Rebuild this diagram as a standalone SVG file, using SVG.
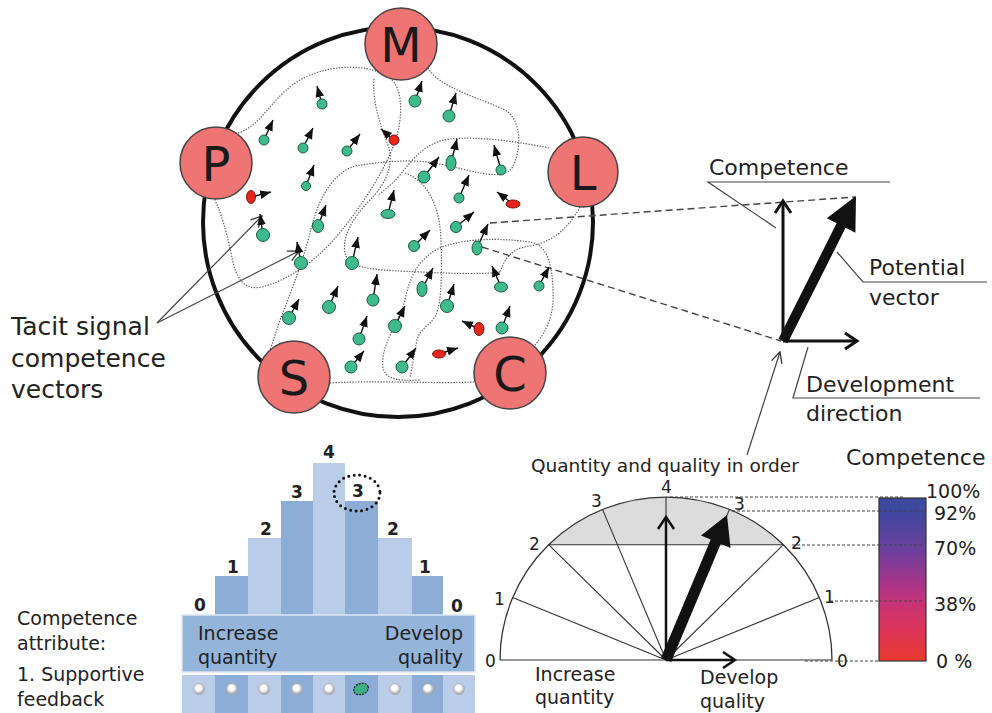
<svg xmlns="http://www.w3.org/2000/svg" width="992" height="713" viewBox="0 0 992 713">
  <defs>
    <style>
      .t { font-family: "DejaVu Sans", Verdana, sans-serif; fill: #222; }
      .node-c { fill: #ef7474; stroke: #444; stroke-width: 1.5; }
      .node-t { font-family: "DejaVu Sans", Verdana, sans-serif; font-size: 48px; fill: #1a1a1a; text-anchor: middle; }
      .dot { fill: #3fba8c; stroke: #1e5a44; stroke-width: 1; }
      .red { fill: #e5261c; stroke: #7a140c; stroke-width: 1; }
      .vec { stroke: #111; stroke-width: 1.4; marker-end: url(#tip); }
      .web { fill: none; stroke: #555; stroke-width: 1.2; stroke-dasharray: 1.3 1.5; }
      .dash { fill: none; stroke: #444; stroke-width: 1.4; stroke-dasharray: 7 4; }
      .lead { fill: none; stroke: #444; stroke-width: 1.2; }
      .arr { fill: none; stroke: #111; stroke-width: 3; stroke-linejoin: miter; }
      .lvl { fill: none; stroke: #444; stroke-width: 1; stroke-dasharray: 3 2; }
      .bl { fill: #b9cde8; }
      .bd { fill: #8badd6; }
      .num { font-family: "DejaVu Sans", Verdana, sans-serif; font-size: 17px; font-weight: bold; fill: #222; text-anchor: middle; }
      .ray { stroke: #333; stroke-width: 1.1; }
      .radio { fill: url(#radioFill); stroke: #aaa; stroke-width: 0.6; }
    </style>
    <marker id="tip" viewBox="0 0 10 10" refX="10" refY="5" markerWidth="11" markerHeight="11" markerUnits="userSpaceOnUse" orient="auto">
      <path d="M0,1 L10,5 L0,9 Z" fill="#111"/>
    </marker>
    <marker id="open" viewBox="0 0 12 12" refX="11" refY="6" markerWidth="13" markerHeight="13" markerUnits="userSpaceOnUse" orient="auto">
      <path d="M1,1 L11,6 L1,11" fill="none" stroke="#333" stroke-width="1.2"/>
    </marker>
    <linearGradient id="scale" x1="0" y1="0" x2="0" y2="1">
      <stop offset="0" stop-color="#3a4aa0"/>
      <stop offset="0.1" stop-color="#40479f"/>
      <stop offset="0.32" stop-color="#6c3f9b"/>
      <stop offset="0.5" stop-color="#a2368d"/>
      <stop offset="0.64" stop-color="#c63377"/>
      <stop offset="0.82" stop-color="#dd3456"/>
      <stop offset="1" stop-color="#e8392c"/>
    </linearGradient>
    <radialGradient id="radioFill" cx="0.45" cy="0.4" r="0.6">
      <stop offset="0.4" stop-color="#ffffff"/>
      <stop offset="1" stop-color="#9a9a9a"/>
    </radialGradient>
  </defs>

  <rect width="992" height="713" fill="#ffffff"/>

  <!-- outer boundary -->
  <circle cx="398" cy="222" r="195" fill="none" stroke="#111" stroke-width="4"/>

  <!-- connectors: dotted web, dashed projections, leaders -->
  <g id="connectors">
    <path class="web" d="M238,133 C262,126 272,96 300,80 C328,64 372,62 392,80 C404,92 402,122 395,142 C384,172 362,205 342,230 C322,255 295,278 262,287 C244,291 236,278 232,258 C227,232 220,210 214,198"/>
    <path class="web" d="M374,79 C372,100 380,125 388,145 C395,165 385,185 370,200 C352,218 340,240 346,256 C352,270 380,270 420,272 C460,274 490,274 500,272"/>
    <path class="web" d="M428,68 C440,88 480,98 505,110 C522,120 522,150 512,168 C502,182 470,170 440,164 C410,158 380,162 355,166 C335,172 320,195 312,225 C305,255 292,290 280,320 C275,335 272,345 270,350"/>
    <path class="web" d="M549,148 C520,142 480,136 450,139 C425,142 412,160 400,175 C390,187 383,190 378,196"/>
    <path class="web" d="M580,207 C570,225 555,242 530,246 C512,248 505,258 500,272"/>
    <path class="web" d="M533,347 C545,335 555,315 553,290 C552,265 548,245 530,242 C500,238 470,238 445,246 C420,255 410,275 405,300 C398,325 380,345 383,368 C386,380 400,381 420,380"/>
    <path class="web" d="M405,173 C430,182 440,210 441,240 C442,270 442,300 436,315 C430,326 420,328 417,340 C414,355 412,368 410,378"/>
    <path class="web" d="M330,383 C380,380 430,384 474,382"/>

    <line class="dash" x1="490" y1="223" x2="855" y2="197"/>
    <line class="dash" x1="482" y1="247" x2="781" y2="341"/>

    <line class="lead" x1="157" y1="323" x2="262" y2="216" marker-end="url(#open)"/>
    <line class="lead" x1="157" y1="323" x2="299" y2="251" marker-end="url(#open)"/>

    <polyline class="lead" points="890,182 708,182 776,228"/>
    <polyline class="lead" points="837,252 863,282 987,282"/>
    <polyline class="lead" points="808,347 793,398 980,398"/>
    <line class="lead" x1="747" y1="455" x2="780" y2="352" marker-end="url(#open)"/>
  </g>

  <!-- signal vectors -->
  <g id="signal-vectors">
    <line class="vec" x1="322" y1="104" x2="317" y2="86"/>
    <line class="vec" x1="264" y1="140" x2="273" y2="120"/>
    <line class="vec" x1="303" y1="148" x2="313" y2="128"/>
    <line class="vec" x1="347" y1="151" x2="360" y2="134"/>
    <line class="vec" x1="394" y1="140" x2="381" y2="129"/>
    <line class="vec" x1="306" y1="186" x2="314" y2="165"/>
    <line class="vec" x1="251" y1="197" x2="271" y2="192"/>
    <line class="vec" x1="388" y1="214" x2="394" y2="190"/>
    <line class="vec" x1="318" y1="226" x2="326" y2="205"/>
    <line class="vec" x1="415" y1="101" x2="422" y2="81"/>
    <line class="vec" x1="449" y1="116" x2="456" y2="93"/>
    <line class="vec" x1="451" y1="163" x2="457" y2="139"/>
    <line class="vec" x1="424" y1="177" x2="439" y2="157"/>
    <line class="vec" x1="501" y1="170" x2="494" y2="145"/>
    <line class="vec" x1="459" y1="198" x2="469" y2="175"/>
    <line class="vec" x1="513" y1="204" x2="497" y2="192"/>
    <line class="vec" x1="456" y1="227" x2="474" y2="212"/>
    <line class="vec" x1="263" y1="235" x2="260" y2="214"/>
    <line class="vec" x1="301" y1="263" x2="297" y2="242"/>
    <line class="vec" x1="352" y1="263" x2="358" y2="237"/>
    <line class="vec" x1="414" y1="246" x2="430" y2="230"/>
    <line class="vec" x1="477" y1="248" x2="488" y2="224"/>
    <line class="vec" x1="373" y1="300" x2="377" y2="274"/>
    <line class="vec" x1="329" y1="307" x2="338" y2="286"/>
    <line class="vec" x1="289" y1="318" x2="299" y2="299"/>
    <line class="vec" x1="422" y1="289" x2="433" y2="268"/>
    <line class="vec" x1="447" y1="306" x2="454" y2="284"/>
    <line class="vec" x1="501" y1="287" x2="492" y2="266"/>
    <line class="vec" x1="539" y1="286" x2="549" y2="267"/>
    <line class="vec" x1="502" y1="328" x2="510" y2="306"/>
    <line class="vec" x1="479" y1="329" x2="462" y2="321"/>
    <line class="vec" x1="395" y1="326" x2="405" y2="306"/>
    <line class="vec" x1="359" y1="339" x2="367" y2="316"/>
    <line class="vec" x1="439" y1="354" x2="458" y2="348"/>
    <line class="vec" x1="351" y1="367" x2="364" y2="351"/>
    <line class="vec" x1="402" y1="367" x2="416" y2="348"/>

    <circle class="dot" cx="322" cy="104" r="5"/>
    <circle class="dot" cx="264" cy="140" r="5"/>
    <circle class="dot" cx="303" cy="148" r="5"/>
    <circle class="dot" cx="347" cy="151" r="5"/>
    <circle class="red" cx="394" cy="140" r="5"/>
    <circle class="dot" cx="306" cy="186" r="4.5"/>
    <ellipse class="red" cx="251" cy="197" rx="4.5" ry="6.5"/>
    <ellipse class="dot" cx="388" cy="214" rx="7" ry="4.5"/>
    <ellipse class="dot" cx="318" cy="226" rx="5.5" ry="6.5"/>
    <circle class="dot" cx="415" cy="101" r="6"/>
    <circle class="dot" cx="449" cy="116" r="6"/>
    <ellipse class="dot" cx="451" cy="163" rx="5" ry="7.5"/>
    <circle class="dot" cx="424" cy="177" r="6"/>
    <circle class="dot" cx="501" cy="170" r="5"/>
    <circle class="dot" cx="459" cy="198" r="5"/>
    <ellipse class="red" cx="513" cy="204" rx="7" ry="4"/>
    <circle class="dot" cx="456" cy="227" r="5.5"/>
    <circle class="dot" cx="263" cy="235" r="6.5"/>
    <circle class="dot" cx="301" cy="263" r="6.5"/>
    <circle class="dot" cx="352" cy="263" r="6.5"/>
    <circle class="dot" cx="414" cy="246" r="5.5"/>
    <ellipse class="dot" cx="477" cy="248" rx="5" ry="7"/>
    <circle class="dot" cx="373" cy="300" r="6"/>
    <circle class="dot" cx="329" cy="307" r="6.5"/>
    <circle class="dot" cx="289" cy="318" r="6.5"/>
    <ellipse class="dot" cx="422" cy="289" rx="5" ry="7.5"/>
    <circle class="dot" cx="447" cy="306" r="6.5"/>
    <ellipse class="dot" cx="501" cy="287" rx="6.5" ry="5"/>
    <circle class="dot" cx="539" cy="286" r="5"/>
    <circle class="dot" cx="502" cy="328" r="6"/>
    <ellipse class="red" cx="479" cy="329" rx="5" ry="6.5"/>
    <circle class="dot" cx="395" cy="326" r="6.5"/>
    <circle class="dot" cx="359" cy="339" r="6"/>
    <ellipse class="red" cx="439" cy="354" rx="6.5" ry="4"/>
    <circle class="dot" cx="351" cy="367" r="6"/>
    <circle class="dot" cx="402" cy="367" r="6"/>
  </g>

  <!-- perimeter nodes -->
  <g id="node-M"><circle class="node-c" cx="401" cy="44" r="36"/><text class="node-t" x="401" y="62">M</text></g>
  <g id="node-P"><circle class="node-c" cx="216" cy="163" r="36"/><text class="node-t" x="216" y="181">P</text></g>
  <g id="node-L"><circle class="node-c" cx="583" cy="172" r="35"/><text class="node-t" x="583" y="190">L</text></g>
  <g id="node-S"><circle class="node-c" cx="294" cy="377" r="36"/><text class="node-t" x="294" y="395">S</text></g>
  <g id="node-C"><circle class="node-c" cx="510" cy="373" r="36"/><text class="node-t" x="510" y="391">C</text></g>

  <!-- side caption -->
  <g id="caption-tacit">
    <text class="t" font-size="25" x="11" y="335">Tacit signal</text>
    <text class="t" font-size="25" x="11" y="367">competence</text>
    <text class="t" font-size="25" x="11" y="398">vectors</text>
  </g>

  <!-- competence vector detail -->
  <g id="vector-detail">
    <line class="arr" x1="783" y1="341" x2="783" y2="202"/>
    <polyline class="arr" points="775,213 783,201 791,213"/>
    <line class="arr" x1="783" y1="341" x2="856" y2="341"/>
    <polyline class="arr" points="845,333 857,341 845,349"/>
    <polygon fill="#111" points="787.5,343.3 845.6,227.8 855.4,232.7 856,196 826.8,218.3 836.6,223.3 778.5,338.8"/>
    <text class="t" font-size="22" x="709" y="175">Competence</text>
    <text class="t" font-size="22" x="869" y="275">Potential</text>
    <text class="t" font-size="22" x="869" y="305">vector</text>
    <text class="t" font-size="22" x="806" y="392">Development</text>
    <text class="t" font-size="22" x="806" y="421">direction</text>
  </g>

  <!-- step bars -->
  <g id="bar-scale">
    <rect class="bl" x="313" y="463" width="32" height="152"/>
    <rect class="bd" x="281" y="501" width="32" height="114"/>
    <rect class="bd" x="345" y="501" width="33" height="114"/>
    <rect class="bl" x="248" y="538" width="33" height="77"/>
    <rect class="bl" x="378" y="538" width="34" height="77"/>
    <rect class="bd" x="215" y="576" width="33" height="39"/>
    <rect class="bd" x="412" y="576" width="31" height="39"/>
    <rect x="182" y="615" width="293" height="57" fill="#94b4da" stroke="#dbe6f3" stroke-width="1.5"/>
    <text class="t" font-size="19" x="198" y="640">Increase</text>
    <text class="t" font-size="19" x="198" y="664">quantity</text>
    <text class="t" font-size="19" x="463" y="640" text-anchor="end">Develop</text>
    <text class="t" font-size="19" x="463" y="664" text-anchor="end">quality</text>

    <rect class="bl" x="182" y="675" width="33" height="38"/>
    <rect class="bd" x="215" y="675" width="33" height="38"/>
    <rect class="bl" x="248" y="675" width="33" height="38"/>
    <rect class="bd" x="281" y="675" width="32" height="38"/>
    <rect class="bl" x="313" y="675" width="32" height="38"/>
    <rect class="bd" x="345" y="675" width="33" height="38"/>
    <rect class="bl" x="378" y="675" width="34" height="38"/>
    <rect class="bd" x="412" y="675" width="31" height="38"/>
    <rect class="bl" x="443" y="675" width="32" height="38"/>
    <circle class="radio" cx="199" cy="689" r="5.5"/>
    <circle class="radio" cx="232" cy="689" r="5.5"/>
    <circle class="radio" cx="264" cy="689" r="5.5"/>
    <circle class="radio" cx="297" cy="689" r="5.5"/>
    <circle class="radio" cx="329" cy="689" r="5.5"/>
    <ellipse cx="361" cy="689" rx="7.5" ry="5.5" transform="rotate(-20 361 689)" fill="#3cb080" stroke="#222" stroke-width="1.2" stroke-dasharray="2 1"/>
    <circle class="radio" cx="395" cy="689" r="5.5"/>
    <circle class="radio" cx="428" cy="689" r="5.5"/>
    <circle class="radio" cx="459" cy="689" r="5.5"/>

    <text class="num" x="200" y="611">0</text>
    <text class="num" x="233" y="573">1</text>
    <text class="num" x="266" y="535">2</text>
    <text class="num" x="297" y="498">3</text>
    <text class="num" x="329" y="458">4</text>
    <text class="num" x="358" y="497">3</text>
    <text class="num" x="393" y="535">2</text>
    <text class="num" x="425" y="573">1</text>
    <text class="num" x="457" y="612">0</text>
    <ellipse cx="357" cy="493" rx="23" ry="18" fill="none" stroke="#111" stroke-width="3" stroke-linecap="round" stroke-dasharray="0 5.5"/>
  </g>

  <g id="caption-attribute">
    <text class="t" font-size="19" x="17" y="625">Competence</text>
    <text class="t" font-size="19" x="17" y="650">attribute:</text>
    <text class="t" font-size="19" x="17" y="681">1. Supportive</text>
    <text class="t" font-size="19" x="17" y="706">feedback</text>
  </g>

  <!-- half-dial -->
  <g id="dial">
    <path d="M548.6,544.7 A166,163 0 0 1 783.4,544.7 Z" fill="#dcdcdc"/>
    <path d="M500,660 A166,163 0 0 1 832,660" fill="none" stroke="#333" stroke-width="1.3"/>
    <line class="ray" x1="500" y1="660" x2="832" y2="660" stroke-width="1.6"/>
    <line class="ray" x1="666" y1="660" x2="512.6" y2="597.6"/>
    <line class="ray" x1="666" y1="660" x2="548.6" y2="544.7"/>
    <line class="ray" x1="666" y1="660" x2="602.5" y2="509.4"/>
    <line class="ray" x1="666" y1="660" x2="666" y2="497"/>
    <line class="ray" x1="666" y1="660" x2="729.5" y2="509.4"/>
    <line class="ray" x1="666" y1="660" x2="783.4" y2="544.7"/>
    <line class="ray" x1="666" y1="660" x2="819.4" y2="597.6"/>
    <line class="ray" x1="548.6" y1="544.7" x2="783.4" y2="544.7"/>

    <line class="lvl" x1="670" y1="497" x2="905" y2="497"/>
    <line class="lvl" x1="732" y1="511" x2="925" y2="511"/>
    <line class="lvl" x1="792" y1="545" x2="922" y2="545"/>
    <line class="lvl" x1="830" y1="601" x2="922" y2="601"/>
    <line class="lvl" x1="805" y1="661" x2="880" y2="661"/>

    <line x1="666" y1="660" x2="666" y2="518" stroke="#111" stroke-width="2.5"/>
    <polyline points="658,529 666,517 674,529" fill="none" stroke="#111" stroke-width="2.5"/>
    <line x1="666" y1="660" x2="734" y2="660" stroke="#111" stroke-width="2.5"/>
    <polyline points="723,652 735,660 723,668" fill="none" stroke="#111" stroke-width="2.5"/>
    <polygon fill="#111" points="671.1,662.1 720.8,543.8 730.5,547.9 727,515 701,535.5 710.7,539.6 660.9,657.9"/>

    <text class="t" font-size="17" x="485" y="667">0</text>
    <text class="t" font-size="17" x="494" y="605">1</text>
    <text class="t" font-size="17" x="529" y="550">2</text>
    <text class="t" font-size="17" x="591" y="507">3</text>
    <text class="t" font-size="17" x="661" y="493">4</text>
    <text class="t" font-size="17" x="734" y="510">3</text>
    <text class="t" font-size="17" x="791" y="549">2</text>
    <text class="t" font-size="17" x="824" y="603">1</text>
    <text class="t" font-size="17" x="837" y="667">0</text>

    <text class="t" font-size="18.5" x="531" y="472">Quantity and quality in order</text>
    <text class="t" font-size="19" x="535" y="681">Increase</text>
    <text class="t" font-size="19" x="535" y="704">quantity</text>
    <text class="t" font-size="19" x="700" y="684">Develop</text>
    <text class="t" font-size="19" x="700" y="708">quality</text>
  </g>

  <!-- competence colour scale -->
  <g id="colour-scale">
    <rect x="879" y="498" width="47" height="163" fill="url(#scale)" stroke="#333" stroke-width="1.2"/>
    <line class="lvl" x1="879" y1="511" x2="925" y2="511"/>
    <line class="lvl" x1="879" y1="545" x2="922" y2="545"/>
    <line class="lvl" x1="879" y1="601" x2="922" y2="601"/>
    <text class="t" font-size="22" x="846" y="465">Competence</text>
    <text class="t" font-size="19" x="926" y="498">100%</text>
    <text class="t" font-size="19" x="934" y="520">92%</text>
    <text class="t" font-size="19" x="934" y="555">70%</text>
    <text class="t" font-size="19" x="934" y="611">38%</text>
    <text class="t" font-size="19" x="936" y="668">0 %</text>
  </g>
</svg>
